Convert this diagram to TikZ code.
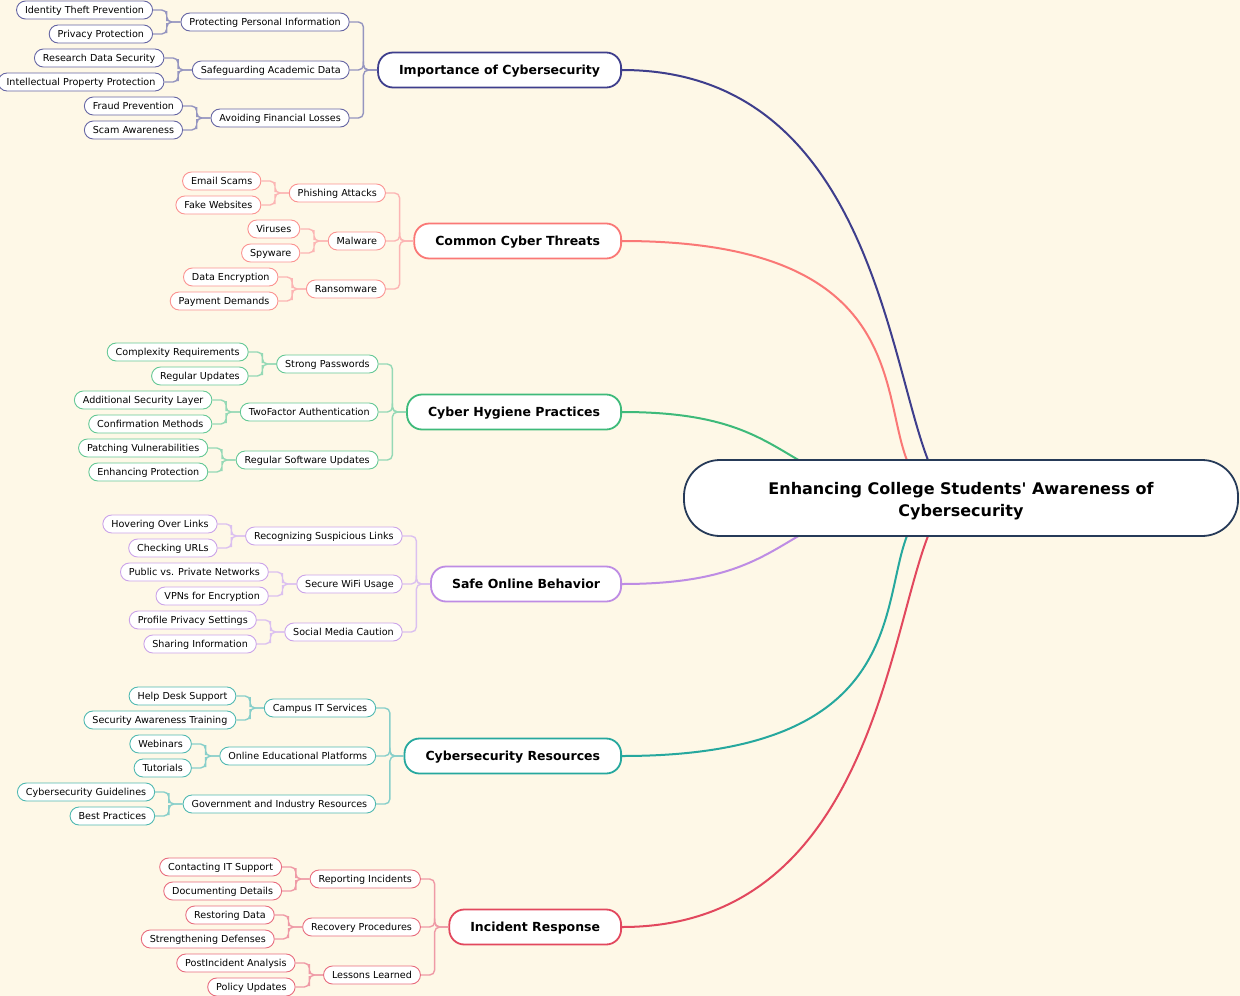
\documentclass[tikz,border=0pt]{standalone}
\usepackage{fontspec}
\setmainfont{DejaVu Sans}[Ligatures=TeXOff]
\usetikzlibrary{positioning, calc, backgrounds}
\definecolor{bgc}{RGB}{254,248,231}
\definecolor{hubc}{RGB}{38,58,88}
\definecolor{impc}{RGB}{62,62,140}
\definecolor{thrc}{RGB}{250,120,118}
\definecolor{hygc}{RGB}{62,186,122}
\definecolor{safc}{RGB}{190,140,228}
\definecolor{resc}{RGB}{38,168,158}
\definecolor{incc}{RGB}{226,72,94}

\begin{document}
\begin{tikzpicture}[x=1pt, y=-1pt, node distance=27.5pt,
      hub/.style={rectangle, rounded corners=36pt, draw=hubc, line width=1.8pt, fill=white, align=center,
        font=\bfseries\fontsize{16}{22}\selectfont, minimum width=554pt, minimum height=76pt},
      topic/.style={rectangle, rounded corners=15pt, draw=#1, line width=1.8pt, fill=white, anchor=east,
        font=\bfseries\fontsize{12.5}{15}\selectfont, inner xsep=21pt, inner ysep=0pt, minimum height=35pt,
        text height=10.5pt, text depth=2pt},
      leaf/.style={rectangle, rounded corners=9pt, draw=#1!80, line width=0.9pt, fill=white,
        font=\fontsize{9.6}{11}\selectfont, inner xsep=8.5pt, inner ysep=0pt, minimum height=18pt,
        text height=8pt, text depth=1.6pt},
      bough/.style={line width=2pt, draw=#1},
      twig/.style={rounded corners=5pt, line width=1.4pt, draw=#1!55,
        to path={-| ($(\tikztostart)!.5!(\tikztotarget)$) |- (\tikztotarget)}},
    ]
    \useasboundingbox (0,0) rectangle (1240,996);
    \begin{scope}[on background layer]
      \fill[bgc] (0,0) rectangle (1240,996);
    \end{scope}
    \node[hub] (hub) at (961,498) {\rule{0pt}{18pt}Enhancing College Students' Awareness of\\Cybersecurity};

    % importance
    \node[topic=impc] (imp) at (622,70) {Importance of Cybersecurity};
    \node[leaf=impc, left=of imp, yshift=48pt] (pers) {Protecting Personal Information};
    \node[leaf=impc, left=of imp] (acad) {Safeguarding Academic Data};
    \node[leaf=impc, left=of imp, yshift=-48pt] (fin) {Avoiding Financial Losses};
    \node[leaf=impc, left=of pers, yshift=12pt] (idth) {Identity Theft Prevention};
    \node[leaf=impc, left=of pers, yshift=-12pt] (priv) {Privacy Protection};
    \node[leaf=impc, left=of acad, yshift=12pt] (rdat) {Research Data Security};
    \node[leaf=impc, left=of acad, yshift=-12pt] (ippr) {Intellectual Property Protection};
    \node[leaf=impc, left=of fin, yshift=12pt] (frau) {Fraud Prevention};
    \node[leaf=impc, left=of fin, yshift=-12pt] (scam) {Scam Awareness};

    % threats
    \node[topic=thrc] (thr) at (622,241) {Common Cyber Threats};
    \node[leaf=thrc, left=of thr, yshift=48pt] (phish) {Phishing Attacks};
    \node[leaf=thrc, left=of thr] (malw) {Malware};
    \node[leaf=thrc, left=of thr, yshift=-48pt] (rans) {Ransomware};
    \node[leaf=thrc, left=of phish, yshift=12pt] (mail) {Email Scams};
    \node[leaf=thrc, left=of phish, yshift=-12pt] (fake) {Fake Websites};
    \node[leaf=thrc, left=of malw, yshift=12pt] (viru) {Viruses};
    \node[leaf=thrc, left=of malw, yshift=-12pt] (spyw) {Spyware};
    \node[leaf=thrc, left=of rans, yshift=12pt] (denc) {Data Encryption};
    \node[leaf=thrc, left=of rans, yshift=-12pt] (paym) {Payment Demands};

    % hygiene
    \node[topic=hygc] (hyg) at (622,412) {Cyber Hygiene Practices};
    \node[leaf=hygc, left=of hyg, yshift=48pt] (pass) {Strong Passwords};
    \node[leaf=hygc, left=of hyg] (tfa) {TwoFactor Authentication};
    \node[leaf=hygc, left=of hyg, yshift=-48pt] (swup) {Regular Software Updates};
    \node[leaf=hygc, left=of pass, yshift=12pt] (cplx) {Complexity Requirements};
    \node[leaf=hygc, left=of pass, yshift=-12pt] (rupd) {Regular Updates};
    \node[leaf=hygc, left=of tfa, yshift=12pt] (addl) {Additional Security Layer};
    \node[leaf=hygc, left=of tfa, yshift=-12pt] (conf) {Confirmation Methods};
    \node[leaf=hygc, left=of swup, yshift=12pt] (ptch) {Patching Vulnerabilities};
    \node[leaf=hygc, left=of swup, yshift=-12pt] (enhp) {Enhancing Protection};

    % safe behaviour
    \node[topic=safc] (saf) at (622,584) {Safe Online Behavior};
    \node[leaf=safc, left=of saf, yshift=48pt] (susp) {Recognizing Suspicious Links};
    \node[leaf=safc, left=of saf] (wifi) {Secure WiFi Usage};
    \node[leaf=safc, left=of saf, yshift=-48pt] (soci) {Social Media Caution};
    \node[leaf=safc, left=of susp, yshift=12pt] (hovr) {Hovering Over Links};
    \node[leaf=safc, left=of susp, yshift=-12pt] (urls) {Checking URLs};
    \node[leaf=safc, left=of wifi, yshift=12pt] (pubp) {Public vs. Private Networks};
    \node[leaf=safc, left=of wifi, yshift=-12pt] (vpns) {VPNs for Encryption};
    \node[leaf=safc, left=of soci, yshift=12pt] (prof) {Profile Privacy Settings};
    \node[leaf=safc, left=of soci, yshift=-12pt] (shar) {Sharing Information};

    % resources
    \node[topic=resc] (res) at (622,756) {Cybersecurity Resources};
    \node[leaf=resc, left=of res, yshift=48pt] (cits) {Campus IT Services};
    \node[leaf=resc, left=of res] (oedu) {Online Educational Platforms};
    \node[leaf=resc, left=of res, yshift=-48pt] (govi) {Government and Industry Resources};
    \node[leaf=resc, left=of cits, yshift=12pt] (help) {Help Desk Support};
    \node[leaf=resc, left=of cits, yshift=-12pt] (satr) {Security Awareness Training};
    \node[leaf=resc, left=of oedu, yshift=12pt] (webi) {Webinars};
    \node[leaf=resc, left=of oedu, yshift=-12pt] (tuto) {Tutorials};
    \node[leaf=resc, left=of govi, yshift=12pt] (guid) {Cybersecurity Guidelines};
    \node[leaf=resc, left=of govi, yshift=-12pt] (best) {Best Practices};

    % incidents
    \node[topic=incc] (inc) at (622,927) {Incident Response};
    \node[leaf=incc, left=of inc, yshift=48pt] (repo) {Reporting Incidents};
    \node[leaf=incc, left=of inc] (reco) {Recovery Procedures};
    \node[leaf=incc, left=of inc, yshift=-48pt] (less) {Lessons Learned};
    \node[leaf=incc, left=of repo, yshift=12pt] (ctit) {Contacting IT Support};
    \node[leaf=incc, left=of repo, yshift=-12pt] (docu) {Documenting Details};
    \node[leaf=incc, left=of reco, yshift=12pt] (rest) {Restoring Data};
    \node[leaf=incc, left=of reco, yshift=-12pt] (stre) {Strengthening Defenses};
    \node[leaf=incc, left=of less, yshift=12pt] (post) {PostIncident Analysis};
    \node[leaf=incc, left=of less, yshift=-12pt] (poli) {Policy Updates};

    \begin{scope}[on background layer]
      \draw[bough=impc] (imp.east) .. controls +(298,0) and +(-75,0) .. (hub.center);
      \draw[bough=thrc] (thr.east) .. controls +(373,0) and +(-129,0) .. (hub.center);
      \draw[bough=hygc] (hyg.east) .. controls +(192,0) and +(-196,0) .. (hub.center);
      \draw[bough=safc] (saf.east) .. controls +(192,0) and +(-196,0) .. (hub.center);
      \draw[bough=resc] (res.east) .. controls +(373,0) and +(-129,0) .. (hub.center);
      \draw[bough=incc] (inc.east) .. controls +(298,0) and +(-75,0) .. (hub.center);
    \end{scope}

    \draw[twig=impc] (pers.east) to (imp.west); \draw[twig=impc] (acad.east) to (imp.west);
    \draw[twig=impc] (fin.east) to (imp.west);
    \draw[twig=impc] (idth.east) to (pers.west); \draw[twig=impc] (priv.east) to (pers.west);
    \draw[twig=impc] (rdat.east) to (acad.west); \draw[twig=impc] (ippr.east) to (acad.west);
    \draw[twig=impc] (frau.east) to (fin.west); \draw[twig=impc] (scam.east) to (fin.west);

    \draw[twig=thrc] (phish.east) to (thr.west); \draw[twig=thrc] (malw.east) to (thr.west);
    \draw[twig=thrc] (rans.east) to (thr.west);
    \draw[twig=thrc] (mail.east) to (phish.west); \draw[twig=thrc] (fake.east) to (phish.west);
    \draw[twig=thrc] (viru.east) to (malw.west); \draw[twig=thrc] (spyw.east) to (malw.west);
    \draw[twig=thrc] (denc.east) to (rans.west); \draw[twig=thrc] (paym.east) to (rans.west);

    \draw[twig=hygc] (pass.east) to (hyg.west); \draw[twig=hygc] (tfa.east) to (hyg.west);
    \draw[twig=hygc] (swup.east) to (hyg.west);
    \draw[twig=hygc] (cplx.east) to (pass.west); \draw[twig=hygc] (rupd.east) to (pass.west);
    \draw[twig=hygc] (addl.east) to (tfa.west); \draw[twig=hygc] (conf.east) to (tfa.west);
    \draw[twig=hygc] (ptch.east) to (swup.west); \draw[twig=hygc] (enhp.east) to (swup.west);

    \draw[twig=safc] (susp.east) to (saf.west); \draw[twig=safc] (wifi.east) to (saf.west);
    \draw[twig=safc] (soci.east) to (saf.west);
    \draw[twig=safc] (hovr.east) to (susp.west); \draw[twig=safc] (urls.east) to (susp.west);
    \draw[twig=safc] (pubp.east) to (wifi.west); \draw[twig=safc] (vpns.east) to (wifi.west);
    \draw[twig=safc] (prof.east) to (soci.west); \draw[twig=safc] (shar.east) to (soci.west);

    \draw[twig=resc] (cits.east) to (res.west); \draw[twig=resc] (oedu.east) to (res.west);
    \draw[twig=resc] (govi.east) to (res.west);
    \draw[twig=resc] (help.east) to (cits.west); \draw[twig=resc] (satr.east) to (cits.west);
    \draw[twig=resc] (webi.east) to (oedu.west); \draw[twig=resc] (tuto.east) to (oedu.west);
    \draw[twig=resc] (guid.east) to (govi.west); \draw[twig=resc] (best.east) to (govi.west);

    \draw[twig=incc] (repo.east) to (inc.west); \draw[twig=incc] (reco.east) to (inc.west);
    \draw[twig=incc] (less.east) to (inc.west);
    \draw[twig=incc] (ctit.east) to (repo.west); \draw[twig=incc] (docu.east) to (repo.west);
    \draw[twig=incc] (rest.east) to (reco.west); \draw[twig=incc] (stre.east) to (reco.west);
    \draw[twig=incc] (post.east) to (less.west); \draw[twig=incc] (poli.east) to (less.west);
  \end{tikzpicture}
\end{document}
